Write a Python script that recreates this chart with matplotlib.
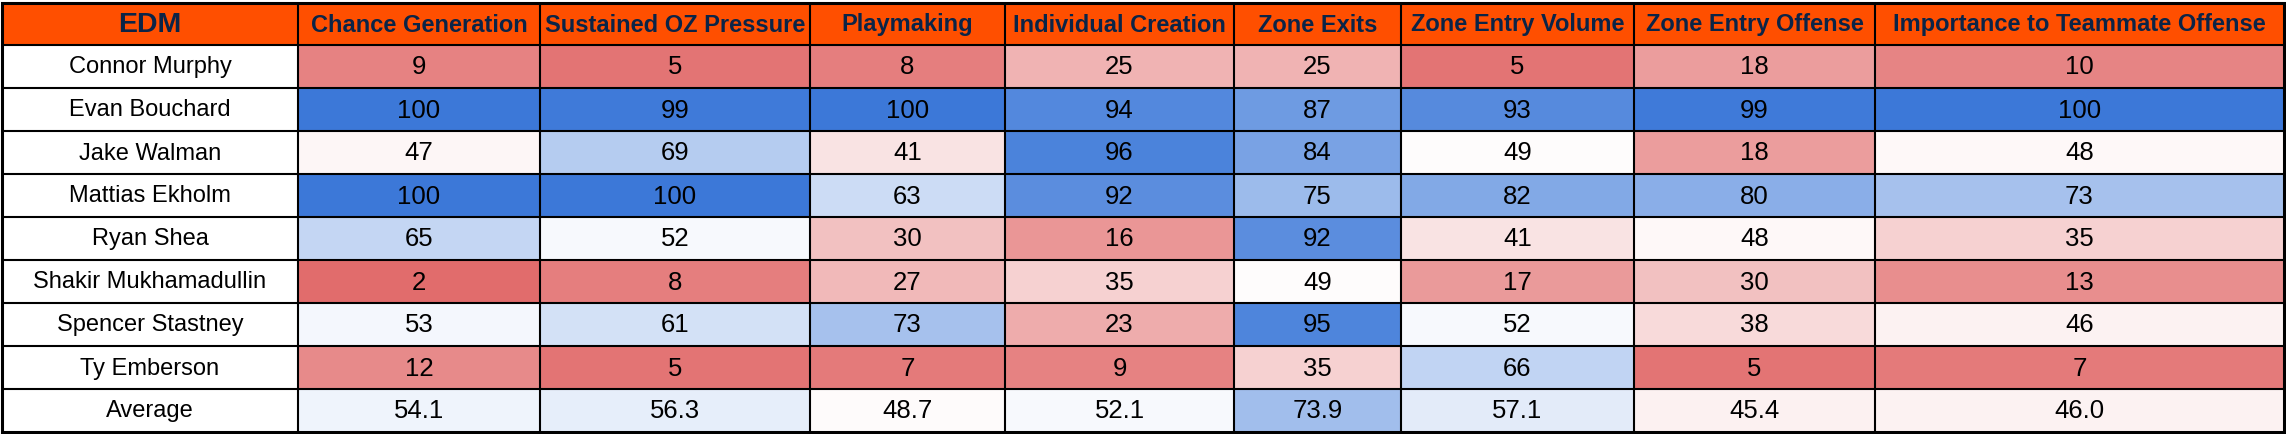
"""
EDM defensemen offensive percentile table
"""
import matplotlib
matplotlib.use("Agg")
import matplotlib.pyplot as plt
import numpy as np
from matplotlib.colors import LinearSegmentedColormap, TwoSlopeNorm
from matplotlib.patches import Rectangle

team = "EDM"
metrics = ["Chance Generation", "Sustained OZ Pressure", "Playmaking", "Individual Creation",
           "Zone Exits", "Zone Entry Volume", "Zone Entry Offense", "Importance to Teammate Offense"]
players = ["Connor Murphy", "Evan Bouchard", "Jake Walman", "Mattias Ekholm", "Ryan Shea",
           "Shakir Mukhamadullin", "Spencer Stastney", "Ty Emberson"]

chance_generation = [9, 100, 47, 100, 65, 2, 53, 12]
sustained_oz = [5, 99, 69, 100, 52, 8, 61, 5]
playmaking = [8, 100, 41, 63, 30, 27, 73, 7]
individual_creation = [25, 94, 96, 92, 16, 35, 23, 9]
zone_exits = [25, 87, 84, 75, 92, 49, 95, 35]
entry_volume = [5, 93, 49, 82, 41, 17, 52, 66]
entry_offense = [18, 99, 18, 80, 48, 30, 38, 5]
teammate_offense = [10, 100, 48, 73, 35, 13, 46, 7]
averages = [54.1, 56.3, 48.7, 52.1, 73.9, 57.1, 45.4, 46.0]

# layout in pixels (figure is 2286 x 434)
W, H = 2286, 434
x_edges = np.array([2, 298, 540, 810, 1005, 1234, 1401, 1634, 1875, 2284])
y_edges = np.array([3, 45] + [45 + 43 * (i + 1) for i in range(9)])
ORANGE = "#FF4F00"
NAVY = "#0B2447"
FONT = "Liberation Sans"

cols = [chance_generation, sustained_oz, playmaking, individual_creation,
        zone_exits, entry_volume, entry_offense, teammate_offense]
values = np.array(cols, dtype=float).T
values = np.vstack([values, averages])
row_labels = players + ["Average"]

cmap = LinearSegmentedColormap.from_list("rwb", ["#E06666", "#FFFFFF", "#3C78D8"])
norm = TwoSlopeNorm(vmin=0, vcenter=50, vmax=100)

fig = plt.figure(figsize=(W / 100, H / 100), dpi=100)
ax = fig.add_axes([0, 0, 1, 1])
ax.set_xlim(0, W)
ax.set_ylim(H, 0)
ax.axis("off")

# header
ax.add_patch(Rectangle((x_edges[0], y_edges[0]), x_edges[-1] - x_edges[0], y_edges[1] - y_edges[0],
                       facecolor=ORANGE, edgecolor="none"))
# value cells
ax.pcolormesh(x_edges[1:], y_edges[1:], values, cmap=cmap, norm=norm, shading="flat")

xc = (x_edges[:-1] + x_edges[1:]) / 2
yc = (y_edges[:-1] + y_edges[1:]) / 2

ax.text(xc[0], yc[0] + 1, team, ha="center", va="center", fontsize=20.5,
        fontweight="bold", color=NAVY, family=FONT)
for j, m in enumerate(metrics):
    ax.text(xc[j + 1], yc[0] + 1, m, ha="center", va="center", fontsize=17,
            fontweight="bold", color=NAVY, family=FONT)

for i, name in enumerate(row_labels):
    ax.text(xc[0], yc[i + 1] + 1, name, ha="center", va="center", fontsize=17,
            color="black", family=FONT)
    for j in range(len(metrics)):
        v = values[i, j]
        label = f"{v:.1f}" if name == "Average" else f"{int(v)}"
        ax.text(xc[j + 1], yc[i + 1] + 1, label, ha="center", va="center", fontsize=18.5,
                color="black", family=FONT)

# grid lines
ax.hlines(y_edges[1:-1], x_edges[0], x_edges[-1], color="black", lw=1.5)
ax.vlines(x_edges[1:-1], y_edges[0], y_edges[-1], color="black", lw=1.5)
ax.add_patch(Rectangle((x_edges[0], y_edges[0]), x_edges[-1] - x_edges[0], y_edges[-1] - y_edges[0],
                       facecolor="none", edgecolor="black", lw=2.2))

fig.savefig("out.png", dpi=100, facecolor="white")
